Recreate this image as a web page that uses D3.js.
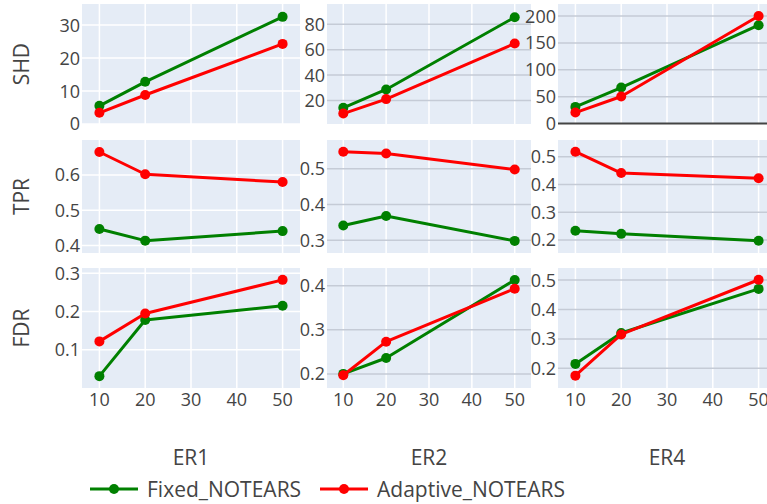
<!DOCTYPE html>
<html><head><meta charset="utf-8">
<script src="https://cdn.jsdelivr.net/npm/d3@7"></script>
<style>body{margin:0;background:#fff}svg{display:block}text{font-family:"Open Sans",sans-serif;fill:#444}</style>
</head><body><svg id="c" width="767" height="504"></svg>
<script>
const xValues = [10, 20, 50];
const xTicks = [10, 20, 30, 40, 50];
const graphs = ["ER1", "ER2", "ER4"];
const metrics = ["SHD", "TPR", "FDR"];
const seriesNames = ["Fixed_NOTEARS", "Adaptive_NOTEARS"];
const seriesColors = ["green", "red"];

const shdFixed    = [[5.5, 12.8, 32.5], [14.2, 28.7, 85.6], [31, 67, 183]];
const shdAdaptive = [[3.4, 8.8, 24.3], [9.7, 21.1, 64.9], [20.5, 50.3, 200]];
const tprFixed    = [[0.447, 0.414, 0.441], [0.341, 0.368, 0.298], [0.233, 0.222, 0.197]];
const tprAdaptive = [[0.665, 0.602, 0.580], [0.548, 0.543, 0.498], [0.518, 0.441, 0.422]];
const fdrFixed    = [[0.031, 0.178, 0.215], [0.200, 0.236, 0.413], [0.215, 0.320, 0.470]];
const fdrAdaptive = [[0.122, 0.195, 0.283], [0.197, 0.273, 0.393], [0.175, 0.315, 0.501]];

const yTicks = [
  [[0, 10, 20, 30], [20, 40, 60, 80], [0, 50, 100, 150, 200]],
  [[0.4, 0.5, 0.6], [0.3, 0.4, 0.5], [0.2, 0.3, 0.4, 0.5]],
  [[0.1, 0.2, 0.3], [0.2, 0.3, 0.4], [0.2, 0.3, 0.4, 0.5]]
];
const yDomains = [
  [[0, 36.4], [1.5, 96], [-0.8, 222.4]],
  [[0.379, 0.699], [0.264, 0.581], [0.153, 0.56]],
  [[0.0, 0.314], [0.168, 0.44], [0.133, 0.541]]
];
const xDomain = [6.2, 53.8];

const data = [[shdFixed, shdAdaptive], [tprFixed, tprAdaptive], [fdrFixed, fdrAdaptive]];

// layout
const cols = [[82, 300], [327, 531], [558, 776]];
const rows = [[4, 124], [140, 253], [268, 388]];

const svg = d3.select("#c");
const fmtRow = [d3.format("d"), d3.format(".1f"), d3.format(".1f")];

rows.forEach((ry, r) => {
  cols.forEach((cx, c) => {
    const x = d3.scaleLinear().domain(xDomain).range(cx);
    const y = d3.scaleLinear().domain(yDomains[r][c]).range([ry[1], ry[0]]);
    const g = svg.append("g");
    const clipId = `clip${r}${c}`;
    svg.append("clipPath").attr("id", clipId).append("rect")
      .attr("x", cx[0]).attr("y", ry[0]).attr("width", cx[1] - cx[0]).attr("height", ry[1] - ry[0]);
    g.append("rect").attr("x", cx[0]).attr("y", ry[0]).attr("width", cx[1] - cx[0]).attr("height", ry[1] - ry[0]).attr("fill", "#e5ecf6");
    // vertical grid
    g.selectAll(".vg").data(xTicks).join("line")
      .attr("x1", d => x(d)).attr("x2", d => x(d)).attr("y1", ry[0]).attr("y2", ry[1])
      .attr("stroke", "#fff").attr("stroke-width", 1.5);
    // horizontal grid
    const hgColor = c === 0 ? "#fff" : "#c5cbd6";
    g.selectAll(".hg").data(yTicks[r][c].filter(d => d !== 0 || c === 0)).join("line")
      .attr("x1", cx[0]).attr("x2", cx[1]).attr("y1", d => y(d)).attr("y2", d => y(d))
      .attr("stroke", hgColor).attr("stroke-width", 1.5);
    if (r === 0 && c === 2) {
      g.append("line").attr("x1", cx[0]).attr("x2", cx[1]).attr("y1", y(0)).attr("y2", y(0))
        .attr("stroke", "#444").attr("stroke-width", 2);
    }
    // y tick labels
    g.selectAll(".yt").data(yTicks[r][c]).join("text")
      .attr("x", cx[0] - 2).attr("y", d => y(d)).attr("dy", "0.36em")
      .attr("text-anchor", "end").attr("font-size", 18).text(d => fmtRow[r](d));
    if (r === 2) {
      g.selectAll(".xt").data(xTicks).join("text")
        .attr("x", d => x(d)).attr("y", ry[1] + 12).attr("dy", "0.36em")
        .attr("text-anchor", "middle").attr("font-size", 18).text(d => d);
    }
    // series
    data[r].forEach((series, s) => {
      const vals = series[c];
      const pts = xValues.map((xv, i) => [xv, vals[i]]);
      g.append("path").datum(pts)
        .attr("clip-path", `url(#${clipId})`)
        .attr("d", d3.line().x(d => x(d[0])).y(d => y(d[1])))
        .attr("fill", "none").attr("stroke", seriesColors[s]).attr("stroke-width", 3)
        .attr("stroke-linejoin", "round");
      g.selectAll(".pt" + s).data(pts).join("circle")
        .attr("cx", d => x(d[0])).attr("cy", d => y(d[1])).attr("r", 5)
        .attr("fill", seriesColors[s]);
    });
  });
  // metric title
  const cy = (ry[0] + ry[1]) / 2;
  svg.append("text").attr("transform", `translate(21,${cy}) rotate(-90)`)
    .attr("text-anchor", "middle").attr("dy", "0.36em").attr("font-size", 21).text(metrics[r]);
});

// column titles
cols.forEach((cx, c) => {
  svg.append("text").attr("x", (cx[0] + cx[1]) / 2).attr("y", 457).attr("dy", "0.36em")
    .attr("text-anchor", "middle").attr("font-size", 21).text(graphs[c]);
});

// legend
const legX = [90, 320];
seriesNames.forEach((name, s) => {
  const lg = svg.append("g").attr("transform", `translate(${legX[s]},489)`);
  lg.append("line").attr("x1", 0).attr("x2", 48).attr("y1", 0).attr("y2", 0)
    .attr("stroke", seriesColors[s]).attr("stroke-width", 3);
  lg.append("circle").attr("cx", 24).attr("cy", 0).attr("r", 5).attr("fill", seriesColors[s]);
  lg.append("text").attr("x", s === 0 ? 57 : 57).attr("y", 0).attr("dy", "0.36em")
    .attr("font-size", 21).text(name);
});
</script></body></html>
